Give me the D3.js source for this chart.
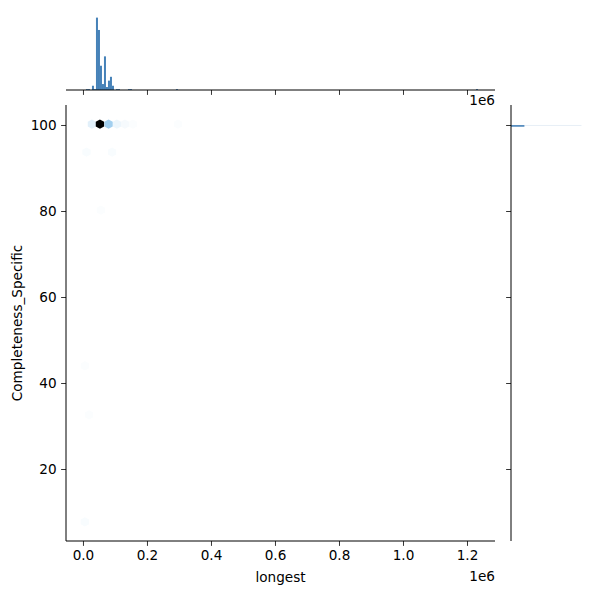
<!DOCTYPE html>
<html><head><meta charset="utf-8">
<script src="https://cdn.jsdelivr.net/npm/d3@7"></script>
<style>body{margin:0;background:#fff}svg{display:block}text{font-family:"DejaVu Sans",sans-serif;fill:#000}</style>
</head><body>
<svg id="c" width="600" height="600"></svg>
<script>
// ---- data ----
const xTicks = [0, 200000, 400000, 600000, 800000, 1000000, 1200000];
const xTickLabels = ["0.0", "0.2", "0.4", "0.6", "0.8", "1.0", "1.2"];
const yTicks = [20, 40, 60, 80, 100];
const yTickLabels = ["20", "40", "60", "80", "100"];

// hexbin cells: centre (longest, Completeness_Specific) and count
const hexX = [28000, 53000, 80000, 106000, 131000, 156000, 297000, 11000, 91000, 56000, 6000, 19000, 6000];
const hexY = [100.2, 100.2, 100.2, 100.2, 100.2, 100.2, 100.2, 93.7, 93.7, 80.2, 44.0, 32.6, 7.7];
const hexCount = [16, 200, 45, 11, 7, 5, 5, 6, 6, 5, 5, 5, 6];

// top marginal histogram of "longest"
const histLeft = [9375, 15625, 28125, 34375, 40625, 46875, 53125, 59375, 65625, 71875, 78125, 84375, 90625, 103125, 109375, 140625, 146875, 290625, 1228125];
const histCount = [2, 2, 10, 2, 170, 141, 57, 14, 79, 7, 22, 31, 10, 2, 2, 2, 2, 2, 2];
const histBinWidth = 6250;

// right marginal histogram of "Completeness_Specific"
const rHistLow = [99.6, 99.97];
const rHistHigh = [99.97, 100.0];
const rHistCount = [190, 1000];

// ---- layout ----
const M = {l: 66, r: 495, t: 105, b: 541};
const TOP = {t: 14, b: 90};
const RIGHT = {l: 511, r: 585};
const FS = 13.6;
const svg = d3.select("#c");

const x = d3.scaleLinear().domain([-53000, 1287500]).range([M.l, M.r]);
const y = d3.scaleLinear().domain([3.26, 104.65]).range([M.b, M.t]);

// colour map: light -> blue -> black (seaborn hex)
const cmin = d3.min(hexCount), cmax = d3.max(hexCount);
const lum = d3.scaleLinear().domain([cmin - 2, cmax]).range([1, 0]);
const hexColor = c => d3.hsl(205, 0.705, lum(c)).formatHex();

// hexagons (pointy top)
const hw = 4.15, hv = 4.7;
const hexPath = `M${hw},${-hv/2}L${hw},${hv/2}L0,${hv}L${-hw},${hv/2}L${-hw},${-hv/2}L0,${-hv}Z`;
const hexIdx = d3.range(hexX.length).sort((a, b) => hexCount[a] - hexCount[b]);
svg.append("g").selectAll("path").data(hexIdx).join("path")
  .attr("d", hexPath)
  .attr("transform", i => `translate(${x(hexX[i])},${y(hexY[i])})`)
  .attr("fill", i => hexColor(hexCount[i]));

// main axes
const gx = svg.append("g").attr("transform", `translate(0,${M.b})`)
  .call(d3.axisBottom(x).tickValues(xTicks).tickFormat((d, i) => xTickLabels[i]).tickSize(4.9).tickPadding(4.5));
const gy = svg.append("g").attr("transform", `translate(${M.l},0)`)
  .call(d3.axisLeft(y).tickValues(yTicks).tickFormat((d, i) => yTickLabels[i]).tickSize(4.9).tickPadding(4.5));
[gx, gy].forEach(g => {
  g.select(".domain").remove();
  g.selectAll("line").attr("stroke", "#000").attr("stroke-width", 0.8);
  g.selectAll("text").attr("font-size", FS).attr("font-family", "DejaVu Sans");
});
svg.append("line").attr("x1", M.l).attr("x2", M.l).attr("y1", M.t).attr("y2", M.b).attr("stroke", "#000").attr("stroke-width", 1);
svg.append("line").attr("x1", M.l).attr("x2", M.r).attr("y1", M.b).attr("y2", M.b).attr("stroke", "#000").attr("stroke-width", 1);

svg.append("text").attr("x", (M.l + M.r) / 2).attr("y", 582).attr("text-anchor", "middle").attr("font-size", FS).text("longest");
svg.append("text").attr("transform", `translate(22,${(M.t + M.b) / 2}) rotate(-90)`).attr("text-anchor", "middle").attr("font-size", FS).text("Completeness_Specific");
svg.append("text").attr("x", M.r).attr("y", 581).attr("text-anchor", "end").attr("font-size", FS).text("1e6");

// top marginal
const hy = d3.scaleLinear().domain([0, d3.max(histCount) * 1.05]).range([TOP.b, TOP.t]);
svg.append("g").selectAll("rect").data(d3.range(histLeft.length)).join("rect")
  .attr("x", i => x(histLeft[i]))
  .attr("width", i => x(histLeft[i] + histBinWidth) - x(histLeft[i]))
  .attr("y", i => hy(histCount[i]))
  .attr("height", i => hy(0) - hy(histCount[i]))
  .attr("fill", "#4682b8");
const gt = svg.append("g").attr("transform", `translate(0,${TOP.b})`)
  .call(d3.axisBottom(x).tickValues(xTicks).tickFormat("").tickSize(4.9));
gt.select(".domain").remove();
gt.selectAll("line").attr("stroke", "#000").attr("stroke-width", 0.8);
svg.append("line").attr("x1", M.l).attr("x2", M.r).attr("y1", TOP.b).attr("y2", TOP.b).attr("stroke", "#000").attr("stroke-width", 1);
svg.append("text").attr("x", M.r).attr("y", 105).attr("text-anchor", "end").attr("font-size", FS).text("1e6");

// right marginal
const rx = d3.scaleLinear().domain([0, d3.max(rHistCount) * 1.05]).range([RIGHT.l, RIGHT.r]);
svg.append("g").selectAll("rect").data(d3.range(rHistCount.length)).join("rect")
  .attr("x", RIGHT.l)
  .attr("y", i => y(rHistHigh[i]))
  .attr("width", i => rx(rHistCount[i]) - RIGHT.l)
  .attr("height", i => Math.max(y(rHistLow[i]) - y(rHistHigh[i]), 0.1))
  .attr("fill", "#4682b8");
const gr = svg.append("g").attr("transform", `translate(${RIGHT.l},0)`)
  .call(d3.axisLeft(y).tickValues(yTicks).tickFormat("").tickSize(4.9));
gr.select(".domain").remove();
gr.selectAll("line").attr("stroke", "#000").attr("stroke-width", 0.8);
svg.append("line").attr("x1", RIGHT.l).attr("x2", RIGHT.l).attr("y1", M.t).attr("y2", M.b).attr("stroke", "#000").attr("stroke-width", 1);
</script>
</body></html>
